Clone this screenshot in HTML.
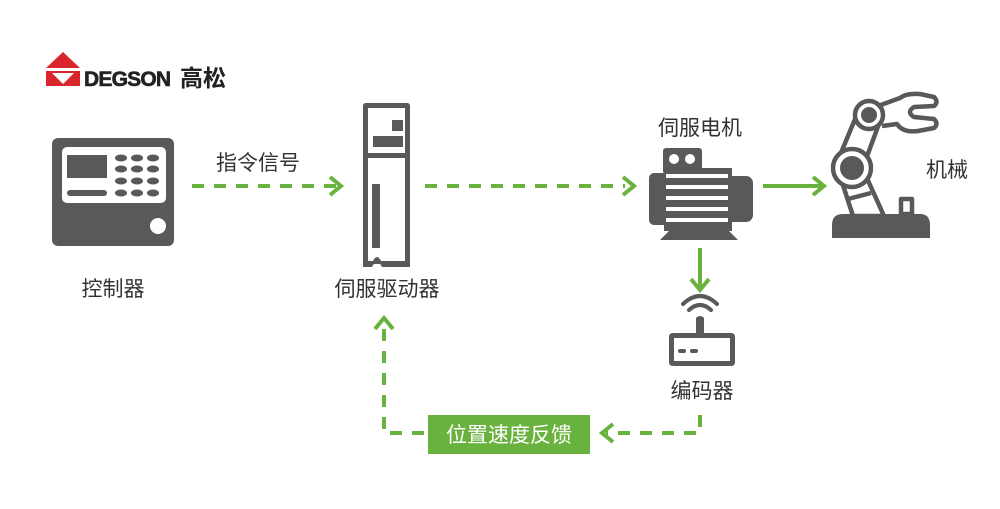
<!DOCTYPE html>
<html><head><meta charset="utf-8"><style>
html,body{margin:0;padding:0;background:#fff;}
svg{display:block;}
text{font-family:"Liberation Sans","Noto Sans CJK SC",sans-serif;}
</style></head><body>
<svg width="1000" height="509" viewBox="0 0 1000 509" xmlns="http://www.w3.org/2000/svg">
<rect width="1000" height="509" fill="#fff"/>
<!-- logo -->
<polygon points="46,68 63,52 80,68" fill="#d9262c"/>
<polygon points="46,71 80,71 80,86 46,86" fill="#d9262c"/>
<polygon points="52,73 74,73 63,84" fill="#fff"/>
<text x="84" y="86" font-size="21" font-weight="bold" fill="#222" style="letter-spacing:-0.8px" stroke="#222" stroke-width="0.6">DEGSON</text>
<text x="180" y="86" font-size="23" font-weight="bold" fill="#222" font-family="Noto Sans CJK SC">高松</text>

<!-- controller -->
<rect x="52" y="138" width="122" height="108" rx="6" fill="#595959"/>
<rect x="62" y="147" width="104" height="56" rx="5" fill="#fff"/>
<rect x="67" y="155" width="40" height="23" fill="#595959"/>
<rect x="67" y="190" width="40" height="6" rx="3" fill="#595959"/>
<g fill="#595959">
<ellipse cx="121" cy="158" rx="6" ry="3.5"/><ellipse cx="137" cy="158" rx="6" ry="3.5"/><ellipse cx="153" cy="158" rx="6" ry="3.5"/>
<ellipse cx="121" cy="169" rx="6" ry="3.5"/><ellipse cx="137" cy="169" rx="6" ry="3.5"/><ellipse cx="153" cy="169" rx="6" ry="3.5"/>
<ellipse cx="121" cy="181" rx="6" ry="3.5"/><ellipse cx="137" cy="181" rx="6" ry="3.5"/><ellipse cx="153" cy="181" rx="6" ry="3.5"/>
<ellipse cx="121" cy="193" rx="6" ry="3.5"/><ellipse cx="137" cy="193" rx="6" ry="3.5"/><ellipse cx="153" cy="193" rx="6" ry="3.5"/>
</g>
<circle cx="158" cy="226" r="8" fill="#fff"/>
<text x="113" y="296" font-size="21" fill="#333" text-anchor="middle">控制器</text>

<!-- arrow 1 -->
<line x1="192" y1="186" x2="338" y2="186" stroke="#6ab23e" stroke-width="4" stroke-dasharray="12,10"/>
<polyline points="330,177 341,186 330,195" fill="none" stroke="#6ab23e" stroke-width="4"/>
<text x="258" y="170" font-size="21" fill="#333" text-anchor="middle">指令信号</text>

<!-- driver -->
<path d="M366,103 H407 Q410,103 410,106 V267 H382 Q377,257 372,267 H363 V106 Q363,103 366,103 Z" fill="#595959"/>
<rect x="368" y="108" width="37" height="45" fill="#fff"/>
<rect x="368" y="158" width="37" height="103" fill="#fff"/>
<path d="M368,261 H373 Q377,253 381,261 H405 V264 H368Z" fill="#595959"/>
<rect x="392" y="120" width="11" height="11" fill="#595959"/>
<rect x="373" y="136" width="30" height="11" fill="#595959"/>
<rect x="372" y="184" width="8" height="64" fill="#595959"/>
<text x="387" y="296" font-size="21" fill="#333" text-anchor="middle">伺服驱动器</text>

<!-- arrow 2 -->
<line x1="425" y1="186" x2="625" y2="186" stroke="#6ab23e" stroke-width="4" stroke-dasharray="12,10"/>
<polyline points="623,177 634,186 623,195" fill="none" stroke="#6ab23e" stroke-width="4"/>

<!-- motor -->
<text x="700" y="135" font-size="21" fill="#333" text-anchor="middle">伺服电机</text>
<rect x="663" y="148" width="39" height="26" rx="3" fill="#595959"/>
<circle cx="674" cy="159" r="5" fill="#fff"/><circle cx="690" cy="159" r="5" fill="#fff"/>
<rect x="649" y="173" width="22" height="52" rx="5" fill="#595959"/>
<rect x="664" y="168" width="68" height="63" fill="#595959"/>
<rect x="726" y="176" width="27" height="46" rx="7" fill="#595959"/>
<g fill="#fff">
<rect x="666" y="174" width="62" height="4"/><rect x="666" y="185" width="62" height="4"/>
<rect x="666" y="196" width="62" height="4"/><rect x="666" y="207" width="62" height="4"/>
<rect x="666" y="218" width="62" height="4"/>
</g>
<polygon points="670,230 728,230 738,240 660,240" fill="#595959"/>

<!-- arrow to robot -->
<line x1="763" y1="186" x2="822" y2="186" stroke="#6ab23e" stroke-width="4"/>
<polyline points="813,177 824,186 813,195" fill="none" stroke="#6ab23e" stroke-width="4"/>

<!-- robot -->
<g fill="none" stroke="#595959" stroke-width="4.5" stroke-linejoin="round">
<polygon points="838,160 858,112 880,121 862,170"/>
<polygon points="842,182 853,216 884,216 866,176"/>
<line x1="848" y1="199" x2="871" y2="193"/>
<rect x="901" y="199" width="11" height="15"/>
<path d="M878,106 L900,98 Q906,93 920,94 L934,97 Q939,102 934,106 L914,107 Q906,112 914,117 L934,119 Q939,124 934,128 L918,131 Q903,133 897,124 L882,126"/>
</g>
<circle cx="869" cy="115" r="14" fill="#fff" stroke="#595959" stroke-width="4.5"/>
<circle cx="869" cy="115" r="8" fill="#595959"/>
<circle cx="852" cy="168" r="19" fill="#fff" stroke="#595959" stroke-width="4.5"/>
<circle cx="852" cy="168" r="12" fill="#595959"/>
<path d="M832,238 V225 Q832,214 843,214 H920 Q930,214 930,225 V238 Z" fill="#595959"/>
<text x="926" y="177" font-size="21" fill="#333">机械</text>

<!-- down arrow -->
<line x1="700" y1="248" x2="700" y2="287" stroke="#6ab23e" stroke-width="4"/>
<polyline points="691,279 700,290 709,279" fill="none" stroke="#6ab23e" stroke-width="4"/>

<!-- encoder -->
<g fill="none" stroke="#595959" stroke-width="4" stroke-linecap="round">
<path d="M689,310 Q700,300 711,310"/>
<path d="M683,304 Q700,288 717,304"/>
</g>
<path d="M669,337 Q669,333 673,333 H696 V318 Q700,314 704,318 V333 H731 Q735,333 735,337 V362 Q735,366 731,366 H673 Q669,366 669,362 Z M674,338 V361 H730 V338 Z" fill="#595959" fill-rule="evenodd"/>
<rect x="678" y="349" width="8" height="4" rx="2" fill="#595959"/>
<rect x="690" y="349" width="8" height="4" rx="2" fill="#595959"/>
<text x="702" y="398" font-size="21" fill="#333" text-anchor="middle">编码器</text>

<!-- feedback -->
<polyline points="700,415 700,433 606,433" fill="none" stroke="#6ab23e" stroke-width="4" stroke-dasharray="12,10"/>
<polyline points="613,424 602,433 613,442" fill="none" stroke="#6ab23e" stroke-width="4"/>
<rect x="428" y="415" width="162" height="39" fill="#6ab23e"/>
<text x="509" y="442" font-size="21" fill="#fff" text-anchor="middle">位置速度反馈</text>
<polyline points="424,433 384,433 384,322" fill="none" stroke="#6ab23e" stroke-width="4" stroke-dasharray="12,10"/>
<polyline points="375,329 384,318 393,329" fill="none" stroke="#6ab23e" stroke-width="4"/>
</svg>
</body></html>
